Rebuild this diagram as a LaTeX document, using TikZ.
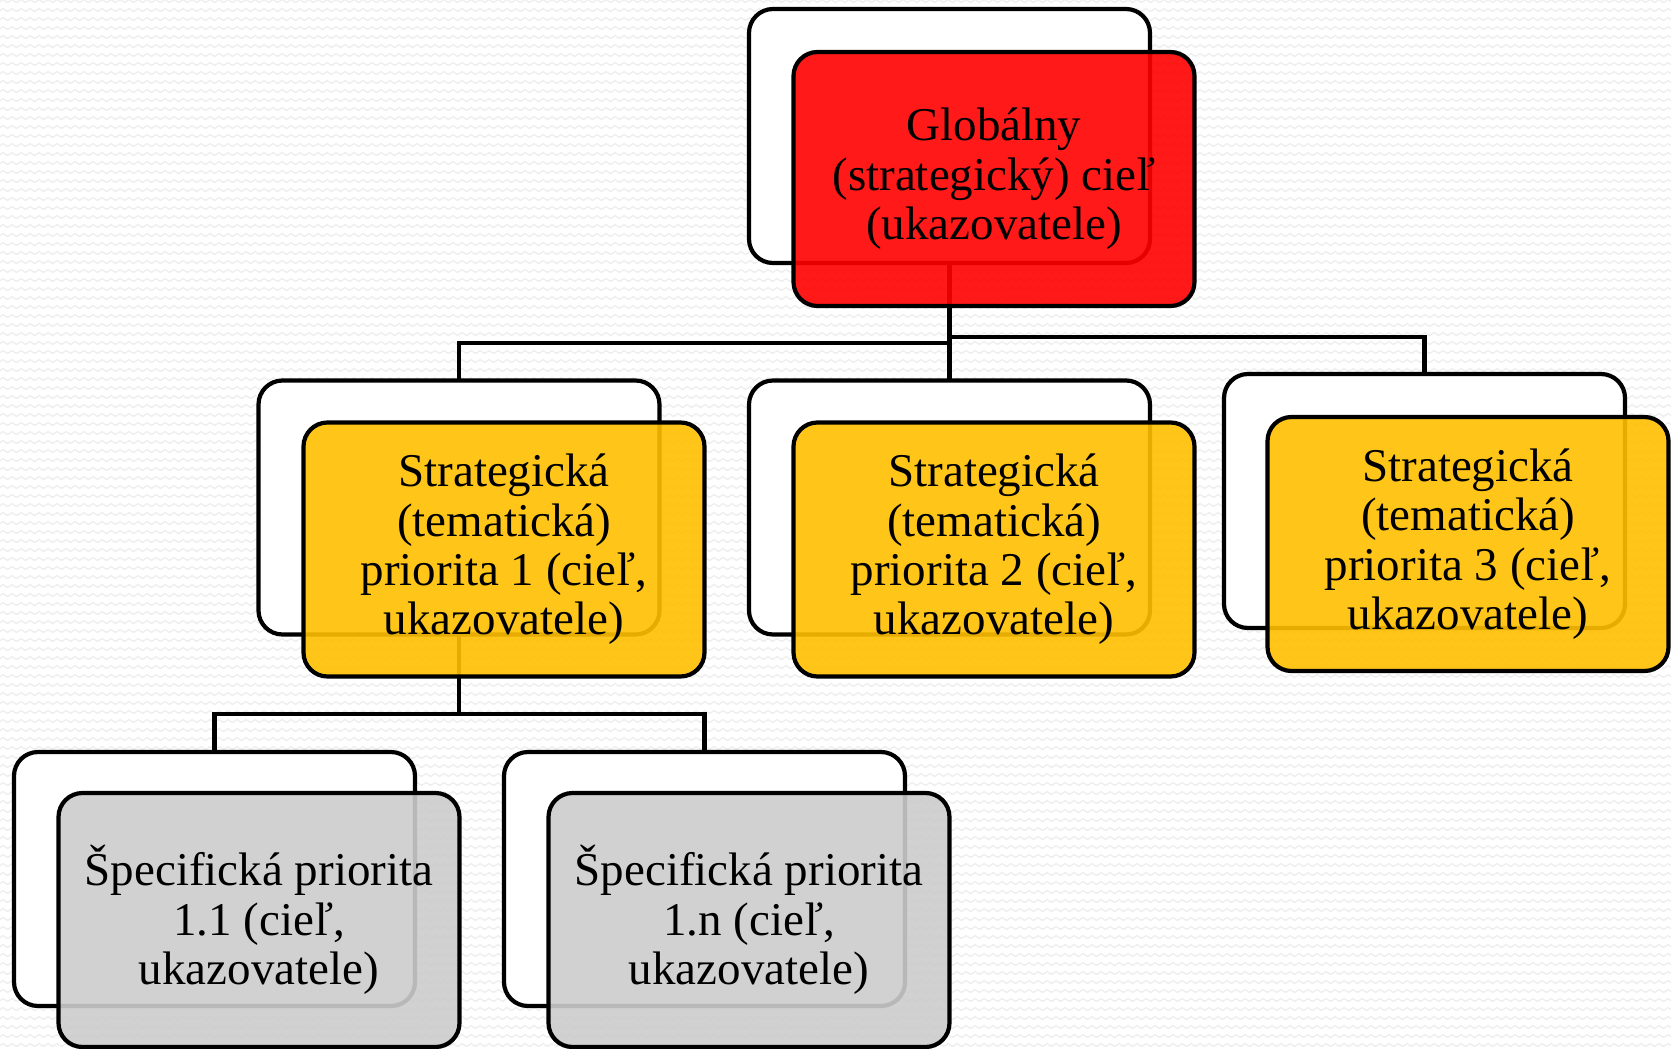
\documentclass[tikz,border=0pt]{standalone}
\usepackage{fontspec}
\setmainfont{Liberation Serif}
\usetikzlibrary{patterns}
\pgfdeclarepatternformonly{zigzagbg}{\pgfpoint{0pt}{0pt}}{\pgfpoint{4.5pt}{4.5pt}}{\pgfpoint{4.5pt}{4.5pt}}{%
 \pgfsetlinewidth{0.7pt}%
 \pgfpathmoveto{\pgfpoint{-2.25pt}{3pt}}%
 \pgfpathlineto{\pgfpoint{0pt}{1.5pt}}%
 \pgfpathlineto{\pgfpoint{2.25pt}{3pt}}%
 \pgfpathlineto{\pgfpoint{4.5pt}{1.5pt}}%
 \pgfpathlineto{\pgfpoint{6.75pt}{3pt}}%
 \pgfusepath{stroke}}
\definecolor{boxred}{RGB}{255,0,0}
\definecolor{boxyellow}{RGB}{255,192,0}
\definecolor{boxgray}{RGB}{204,204,204}
\definecolor{bgline}{RGB}{238,238,238}
\begin{document}
\begin{tikzpicture}[x=0.5pt,y=-0.5pt,
  back/.style={draw=black, line width=2.1pt, fill=white, rounded corners=12pt,
    minimum width=200.5pt, minimum height=127pt, inner sep=0pt, outer sep=0pt},
  front/.style={back, fill opacity=0.9, text opacity=1, align=center,
    font=\fontsize{23.5}{24.7}\selectfont},
  conn/.style={draw=black, line width=2.4pt}]
\useasboundingbox (0,0) rectangle (1671,1049);
\fill[white] (0,0) rectangle (1671,1049);
\fill[pattern=zigzagbg, pattern color=bgline] (0,0) rectangle (1671,1049);

% back (white) boxes
\node[back] (gw)  at (949.5,136) {};
\node[back] (s1w) at (459,507.5) {};
\node[back] (s2w) at (949.5,507.5) {};
\node[back] (s3w) at (1424.5,501) {};
\node[back] (p1w) at (214.5,879) {};
\node[back] (p2w) at (704.5,879) {};

% bar levels
\coordinate (b1) at (0,343);
\coordinate (b2) at (0,337);
\coordinate (b3) at (0,714);

% connectors
\draw[conn] (gw.south) -- (gw.south |- b1) -| (s1w.north);
\draw[conn] (gw.south) -- (s2w.north);
\draw[conn] (gw.south |- b2) -| (s3w.north);
\draw[conn] (s1w.south) -- (s1w.south |- b3) -| (p1w.north);
\draw[conn] (s1w.south |- b3) -| (p2w.north);

% front (coloured) boxes
\node[front, fill=boxred] (g) at (994,179) {Globálny\\(strategický) cieľ\\(ukazovatele)};
\node[front, fill=boxyellow] (s1) at (504,549.5) {Strategická\\(tematická)\\priorita 1 (cieľ,\\ukazovatele)};
\node[front, fill=boxyellow] (s2) at (994,549.5) {Strategická\\(tematická)\\priorita 2 (cieľ,\\ukazovatele)};
\node[front, fill=boxyellow] (s3) at (1468,544) {Strategická\\(tematická)\\priorita 3 (cieľ,\\ukazovatele)};
\node[front, fill=boxgray] (p1) at (259,920) {Špecifická priorita\\1.1 (cieľ,\\ukazovatele)};
\node[front, fill=boxgray] (p2) at (749,920) {Špecifická priorita\\1.n (cieľ,\\ukazovatele)};
\end{tikzpicture}
\end{document}
